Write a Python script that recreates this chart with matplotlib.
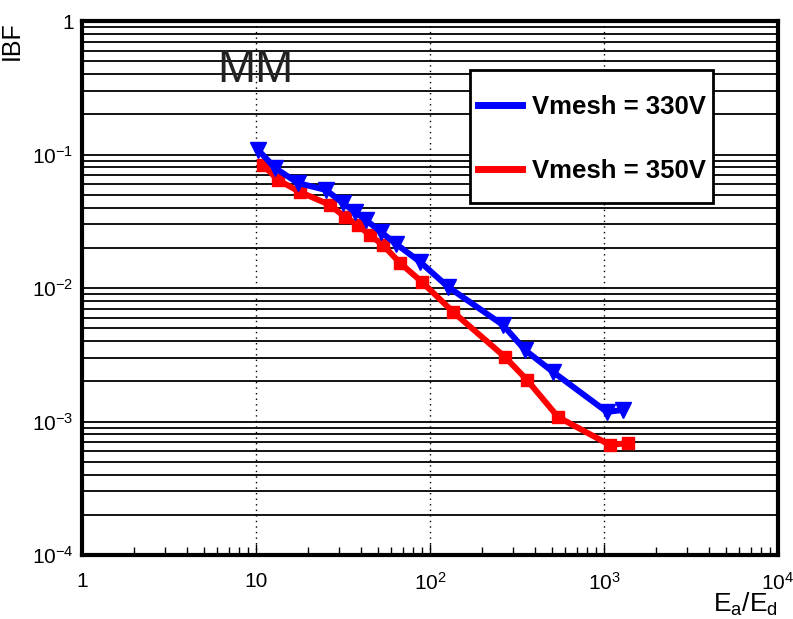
import matplotlib
matplotlib.use("Agg")
import matplotlib.pyplot as plt
import numpy as np
from matplotlib.patches import Rectangle

plt.rcParams['font.family'] = ['Liberation Sans', 'DejaVu Sans']
plt.rcParams['mathtext.fontset'] = 'custom'
plt.rcParams['mathtext.rm'] = 'Liberation Sans'
plt.rcParams['mathtext.it'] = 'Liberation Sans:italic'

# Vmesh = 330V (blue, triangles)
x_330 = [10.3, 12.9, 17.4, 25.3, 31.6, 37.1, 42.9, 52.3, 63.8, 87.7, 127, 263, 352, 510, 1040, 1286]
ibf_330 = [0.108, 0.0792, 0.0612, 0.0542, 0.0433, 0.0371, 0.0323, 0.0263, 0.0214, 0.0157,
           0.0102, 0.00528, 0.00343, 0.00235, 0.00118, 0.00122]
# Vmesh = 350V (red, squares)
x_350 = [11.0, 13.4, 17.9, 26.6, 32.5, 38.5, 45.2, 53.7, 67.3, 89.9, 136, 270, 361, 545, 1082, 1374]
ibf_350 = [0.0834, 0.0644, 0.0524, 0.0419, 0.0340, 0.0296, 0.0249, 0.0210, 0.0154, 0.0111,
           0.00661, 0.00304, 0.00205, 0.00108, 0.000667, 0.000690]

xticks = [1, 10, 100, 1000, 10000]
xticklabels = ['1', '10', '$10^{2}$', '$10^{3}$', '$10^{4}$']
yticks = [1e-4, 1e-3, 1e-2, 1e-1, 1]
yticklabels = ['$10^{-4}$', '$10^{-3}$', '$10^{-2}$', '$10^{-1}$', '1']

fig = plt.figure(figsize=(7.93, 6.19), dpi=100)
ax = fig.add_axes([0.1034, 0.1034, 0.8776, 0.8626])
ax.set_xscale('log')
ax.set_yscale('log')
ax.set_xlim(1, 1e4)
ax.set_ylim(1e-4, 1)

# horizontal solid grid lines at every decade step
for dec in range(-4, 0):
    for m in range(1, 10):
        v = m * 10.0 ** dec
        if v > 1e-4:
            ax.axhline(v, color='black', lw=1.3, zorder=1)
# vertical dotted grid at major x ticks
for v in [10, 100, 1000]:
    ax.axvline(v, color='black', lw=1.0, ls=(0, (1, 3)), zorder=1)

ax.plot(x_330, ibf_330, color='#0000ff', lw=4.3, marker='v', ms=11, zorder=3,
        label='Vmesh = 330V')
ax.plot(x_350, ibf_350, color='#ff0000', lw=4.3, marker='s', ms=9, zorder=2,
        label='Vmesh = 350V')

ax.set_xticks(xticks)
ax.set_xticklabels(xticklabels, fontsize=15)
ax.set_yticks(yticks)
ax.set_yticklabels(yticklabels, fontsize=15)
ax.yaxis.set_minor_locator(matplotlib.ticker.NullLocator())
ax.xaxis.set_minor_locator(matplotlib.ticker.LogLocator(base=10, subs=np.arange(2, 10)))
ax.xaxis.set_minor_formatter(matplotlib.ticker.NullFormatter())
ax.tick_params(axis='x', which='major', direction='in', length=8, width=1, pad=12)
ax.tick_params(axis='x', which='minor', direction='in', length=6, width=1)
ax.tick_params(axis='y', which='major', direction='in', length=0, pad=6)
for s in ax.spines.values():
    s.set_linewidth(3)
    s.set_zorder(5)

ax.set_xlabel(r'E$_{\mathrm{a}}$/E$_{\mathrm{d}}$', fontsize=19, loc='right', labelpad=-2)
ax.set_ylabel('IBF', fontsize=18, loc='top', labelpad=6)

ax.text(0.194, 0.886, 'MM', transform=ax.transAxes, fontsize=33, color='#222222')

# legend box
ax.add_patch(Rectangle((0.5575, 0.659), 0.349, 0.249, transform=ax.transAxes,
                       facecolor='white', edgecolor='black', lw=2, zorder=6))
leg = ax.legend(loc='center left', bbox_to_anchor=(0.569, 0.779), frameon=False,
                handlelength=1.7, handletextpad=0.4, labelspacing=1.55,
                borderpad=0, borderaxespad=0,
                prop={'weight': 'bold', 'size': 18.5})
for h in leg.legend_handles:
    h.set_marker('')
    h.set_linewidth(5)
leg.set_zorder(7)

fig.savefig('out.png', dpi=100)
